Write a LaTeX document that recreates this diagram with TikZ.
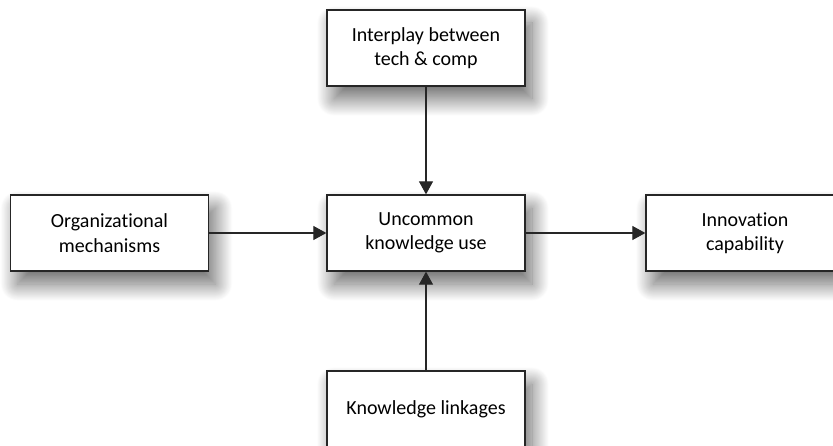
\documentclass[tikz,border=0pt]{standalone}
\usepackage{fontspec}
\setmainfont{Carlito}[Ligatures=NoCommon]
\usetikzlibrary{arrows.meta,shadows.blur}

\begin{document}
\begin{tikzpicture}[x=1pt,y=1pt,
  blockbox/.style={draw=black!85, line width=1.3pt, fill=white,
    minimum width=198pt, minimum height=76pt, inner sep=0pt,
    align=center, font=\fontsize{20}{24.5}\selectfont,
    blur shadow={shadow xshift=7pt, shadow yshift=-13pt,
      shadow blur radius=17pt, shadow blur steps=40,
      shadow opacity=60}},
  link/.style={draw=black!85, line width=1.2pt,
    -{Triangle[length=13pt,width=14pt]}}]
  \useasboundingbox (0,0) rectangle (833,-446);

  % the five concept boxes
  \node[blockbox] (tech)   at (426,-48)  {Interplay between\\tech \& comp};
  \node[blockbox] (org)    at (109.5,-233) {Organizational\\mechanisms};
  \node[blockbox] (use)    at (426,-233) {Uncommon\\knowledge use};
  \node[blockbox] (innov)  at (745,-233) {Innovation\\capability};
  \node[blockbox] (links)  at (426,-409) {Knowledge linkages};

  % influences on uncommon knowledge use
  \draw[link] (tech) -- (use);
  \draw[link] (org) -- (use);
  \draw[link] (links) -- (use);
  \draw[link] (use) -- (innov);
\end{tikzpicture}
\end{document}
